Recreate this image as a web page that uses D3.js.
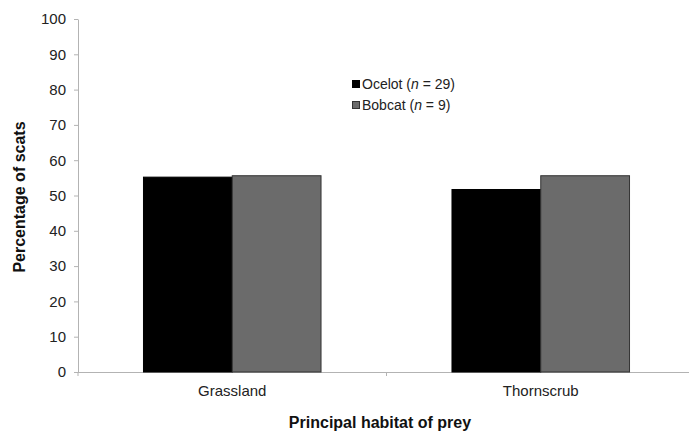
<!DOCTYPE html>
<html>
<head>
<meta charset="utf-8">
<script src="https://cdn.jsdelivr.net/npm/d3@7"></script>
<style>
    body { margin: 0; background: #fff; }
    svg { display: block; font-family: "Liberation Sans", Arial, sans-serif; }
    .axis path, .axis line { stroke: #b3b3b3; }
    .axis text { fill: #222; font-size: 15px; }
</style>
</head>
<body>
<div id="chart"></div>
<script>
// ============================================================================
// Percentage of scats by principal habitat of prey
// ============================================================================

const categories = ['Grassland', 'Thornscrub'];
const seriesNames = ['Ocelot', 'Bobcat'];
const seriesN = [29, 9];
const ocelotValues = [55.2, 51.7];
const bobcatValues = [55.6, 55.6];
const yTicks = [0, 10, 20, 30, 40, 50, 60, 70, 80, 90, 100];

const width = 689, height = 432;
const margin = { top: 19, right: -6, bottom: 60, left: 78 };
const w = width - margin.left - margin.right;
const h = height - margin.top - margin.bottom;

const fills = ['#000000', '#6b6b6b'];
const strokes = ['#000000', '#333333'];

const svg = d3.select('#chart').append('svg')
    .attr('width', width).attr('height', height);

const g = svg.append('g')
    .attr('transform', `translate(${margin.left},${margin.top})`);

// Excel-like gap: same gap inside and at edges (half on each side)
const gap = 0.4245;
const xScale = d3.scaleBand().domain(categories).range([0, w])
    .paddingInner(gap).paddingOuter(gap / 2);
const innerScale = d3.scaleBand().domain(seriesNames).range([0, xScale.bandwidth()]);
const yScale = d3.scaleLinear().domain([0, 100]).range([h, 0]);

// Axes
const xAxis = g.append('g')
    .attr('class', 'axis')
    .attr('transform', `translate(0,${h})`)
    .call(d3.axisBottom(xScale).tickSize(0).tickSizeOuter(0).tickPadding(13));
xAxis.select('.domain').attr('d', `M0,0.5H${w}`);
// ticks between categories
xAxis.selectAll('.sep')
    .data([0, 1, 2])
    .join('line')
    .attr('class', 'sep')
    .attr('x1', i => i * w / categories.length).attr('x2', i => i * w / categories.length)
    .attr('y1', 0).attr('y2', 4);

g.append('g')
    .attr('class', 'axis')
    .call(d3.axisLeft(yScale).tickValues(yTicks).tickSize(4).tickSizeOuter(0).tickPadding(8));

// Bars
const seriesData = [ocelotValues, bobcatValues];
seriesData.forEach((vals, si) => {
    g.selectAll(`.bar-${si}`)
        .data(categories.map((c, i) => ({ c, v: vals[i] })))
        .join('rect')
        .attr('x', d => xScale(d.c) + innerScale(seriesNames[si]))
        .attr('y', d => yScale(d.v))
        .attr('width', innerScale.bandwidth())
        .attr('height', d => h - yScale(d.v))
        .attr('fill', fills[si])
        .attr('stroke', strokes[si])
        .attr('stroke-width', 1);
});

// Legend
const legend = svg.append('g').attr('transform', 'translate(352,80)');
seriesNames.forEach((name, i) => {
    const row = legend.append('g').attr('transform', `translate(0,${i * 21})`);
    row.append('rect')
        .attr('x', 0.5).attr('y', 0.5)
        .attr('width', 7).attr('height', 7)
        .attr('fill', fills[i]).attr('stroke', strokes[i]);
    const t = row.append('text')
        .attr('x', 10).attr('y', 8.5)
        .style('font-size', '14px')
        .attr('fill', '#222');
    t.append('tspan').text(`${name} (`);
    t.append('tspan').style('font-style', 'italic').text('n');
    t.append('tspan').text(` = ${seriesN[i]})`);
});

// Axis titles
svg.append('text')
    .attr('x', 380).attr('y', 428)
    .attr('text-anchor', 'middle')
    .style('font-size', '16px').style('font-weight', 'bold')
    .attr('fill', '#111')
    .text('Principal habitat of prey');

svg.append('text')
    .attr('transform', 'rotate(-90)')
    .attr('x', -197).attr('y', 25)
    .attr('text-anchor', 'middle')
    .style('font-size', '16px').style('font-weight', 'bold')
    .attr('fill', '#111')
    .text('Percentage of scats');
</script>
</body>
</html>
